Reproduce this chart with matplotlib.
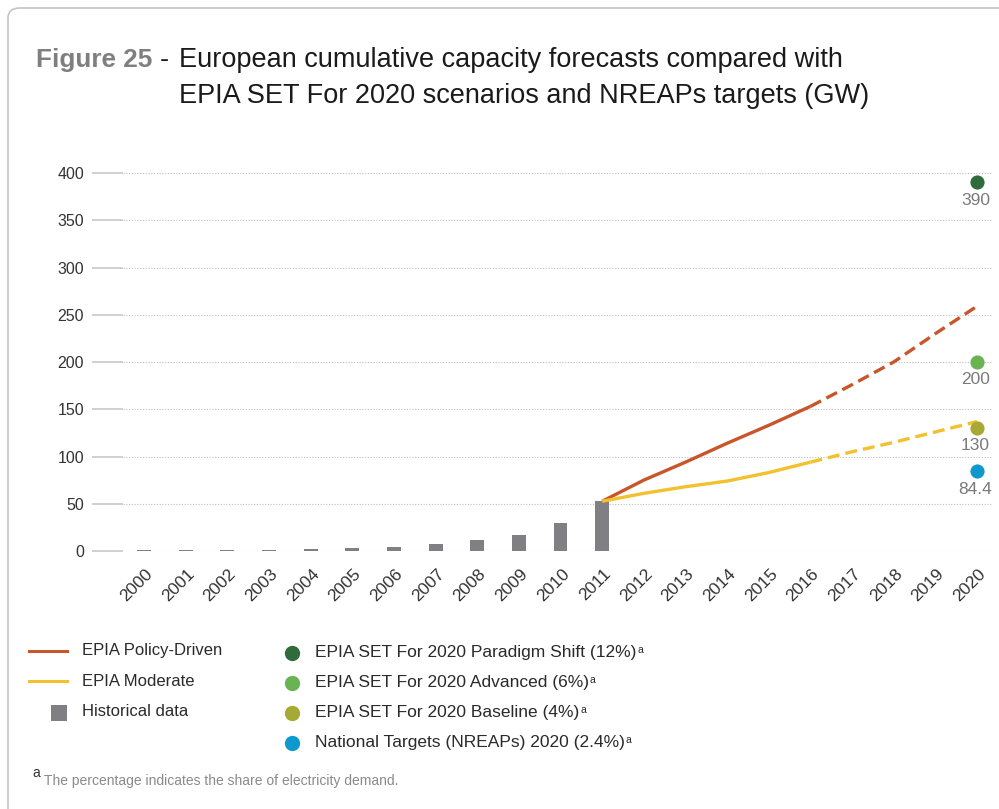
import matplotlib
matplotlib.use("Agg")
import matplotlib.pyplot as plt
from matplotlib.patches import FancyBboxPatch
from matplotlib.lines import Line2D
import matplotlib.transforms as mtransforms

plt.rcParams['font.family'] = ['Liberation Sans', 'DejaVu Sans']

# ---------------- data ----------------
hist_years = list(range(2000, 2012))
hist_values = [0.8, 0.9, 1.0, 1.1, 1.9, 2.9, 3.9, 7.1, 11.3, 16.6, 29.3, 52.6]

proj_years_solid = [2011, 2012, 2013, 2014, 2015, 2016]
policy_solid = [52.6, 75, 94, 114, 133, 153]
moderate_solid = [52.6, 61, 68, 74, 83, 94]

proj_years_dash = [2016, 2017, 2018, 2019, 2020]
policy_dash = [153, 176, 200, 230, 259]
moderate_dash = [94, 105, 115, 126, 137]

target_year = 2020
target_values = [390, 200, 130, 84.4]
target_labels = ["390", "200", "130", "84.4"]
target_names = ["EPIA SET For 2020 Paradigm Shift (12%)",
                "EPIA SET For 2020 Advanced (6%)",
                "EPIA SET For 2020 Baseline (4%)",
                "National Targets (NREAPs) 2020 (2.4%)"]
target_colors = ["#2f6b3c", "#69b352", "#a6aa35", "#0f98cc"]

yticks = [0, 50, 100, 150, 200, 250, 300, 350, 400]
xtick_years = list(range(2000, 2021))

c_policy = "#c9552a"
c_moderate = "#f2c12e"
c_hist = "#808084"

W, H = 999, 809
fig = plt.figure(figsize=(W / 100, H / 100), dpi=100)
renderer = fig.canvas.get_renderer()

def fx(px):
    return px / W

def fy(py):
    return 1 - py / H

# frame
frame = FancyBboxPatch((fx(8), fy(1030)), fx(1100), (1030 - 8) / H,
                       boxstyle="round,pad=0,rounding_size=0.012",
                       transform=fig.transFigure, fill=False,
                       edgecolor="#c4c4c4", linewidth=1.2)
fig.add_artist(frame)

# title
fig.text(fx(36), fy(67), "Figure 25", fontsize=18.8, color="#7f7f7f",
         fontweight="bold", va="baseline", ha="left")
fig.text(fx(160), fy(67), "-", fontsize=19.5, color="#1a1a1a",
         va="baseline", ha="left")
fig.text(fx(179), fy(67), "European cumulative capacity forecasts compared with",
         fontsize=19.5, color="#1a1a1a", va="baseline", ha="left")
fig.text(fx(179), fy(103), "EPIA SET For 2020 scenarios and NREAPs targets (GW)",
         fontsize=19.5, color="#1a1a1a", va="baseline", ha="left")

# axes
left, right, top, bottom = 123, 993, 173, 551
ax = fig.add_axes([fx(left), fy(bottom), fx(right - left), (bottom - top) / H])
pxyr = (977 - 144) / 20
ax.set_xlim(2000 - (144 - left) / pxyr, 2020 + (right - 977) / pxyr)
ax.set_ylim(0, 400)
for s in ax.spines.values():
    s.set_visible(False)

ax.set_yticks(yticks)
ax.set_yticklabels([str(v) for v in yticks], fontsize=11.5, color="#333333")
ax.tick_params(axis='y', length=22, width=1.2, color="#c8c8c8", pad=6)
ax.grid(axis='y', linestyle=(0, (1, 1.5)), color="#bdbdbd", linewidth=0.8)
ax.set_axisbelow(True)

ax.set_xticks(xtick_years)
ax.set_xticklabels([str(y) for y in xtick_years], fontsize=12.5, color="#333333",
                   rotation=45, ha="right", rotation_mode="anchor")
ax.tick_params(axis='x', length=0, pad=11)
offset = mtransforms.ScaledTranslation(1 / 100, 0, fig.dpi_scale_trans)
for lab in ax.get_xticklabels():
    lab.set_transform(lab.get_transform() + offset)

ax.bar(hist_years, hist_values, width=0.336, color=c_hist, zorder=2)

lw = 2.4
ax.plot(proj_years_solid, policy_solid, color=c_policy, lw=lw, zorder=3,
        solid_capstyle='butt')
ax.plot(proj_years_dash, policy_dash, color=c_policy, lw=lw, zorder=3,
        linestyle=(0, (3.6, 1.8)), clip_on=False)
ax.plot(proj_years_solid, moderate_solid, color=c_moderate, lw=lw, zorder=3,
        solid_capstyle='butt')
ax.plot(proj_years_dash, moderate_dash, color=c_moderate, lw=lw, zorder=3,
        linestyle=(0, (3.6, 1.8)), clip_on=False)

for v, lab, c in zip(target_values, target_labels, target_colors):
    ax.plot([target_year], [v], 'o', color=c, markersize=10.2, zorder=4,
            clip_on=False, markeredgewidth=0)
    ax.annotate(lab, (target_year, v), xytext=(-1, -12.8), textcoords='offset points',
                ha='center', va='center', fontsize=12.5, color="#7a7a7a")

# legend (left column)
leg_text_color = "#2a2a2a"
rows_l = [651, 681, 712]
fig.add_artist(Line2D([fx(29), fx(67)], [fy(rows_l[0]), fy(rows_l[0])],
                      color=c_policy, lw=2.2, transform=fig.transFigure))
fig.add_artist(Line2D([fx(29), fx(67)], [fy(rows_l[1]), fy(rows_l[1])],
                      color=c_moderate, lw=2.2, transform=fig.transFigure))
fig.add_artist(Line2D([fx(59)], [fy(rows_l[2] + 1)], marker='s', markersize=11.5,
                      color=c_hist, transform=fig.transFigure, linestyle='none',
                      markeredgewidth=0))
for y, t in zip(rows_l, ["EPIA Policy-Driven", "EPIA Moderate", "Historical data"]):
    fig.text(fx(82), fy(y), t, fontsize=12, color=leg_text_color, va='center', ha='left')

# legend (right column) with small superscript "a"
rows_r = [653, 683, 713, 743]
for y, t, c in zip(rows_r, target_names, target_colors):
    fig.add_artist(Line2D([fx(292)], [fy(y)], marker='o', markersize=11,
                          color=c, transform=fig.transFigure, linestyle='none',
                          markeredgewidth=0))
    txt = fig.text(fx(315), fy(y), t, fontsize=12.5,
                   color=leg_text_color, va='center', ha='left')
    bb = txt.get_window_extent(renderer=renderer)
    fig.text(fx(bb.x1 + 1), fy(y - 3), "a", fontsize=7.5,
             color=leg_text_color, va='center', ha='left')

# footnote
fig.text(fx(32), fy(777), "a", fontsize=10, color="#333333",
         va='baseline', ha='left')
fig.text(fx(44), fy(785), "The percentage indicates the share of electricity demand.",
         fontsize=10, color="#8a8a8a", va='baseline', ha='left')

fig.savefig("out.png", dpi=100)
